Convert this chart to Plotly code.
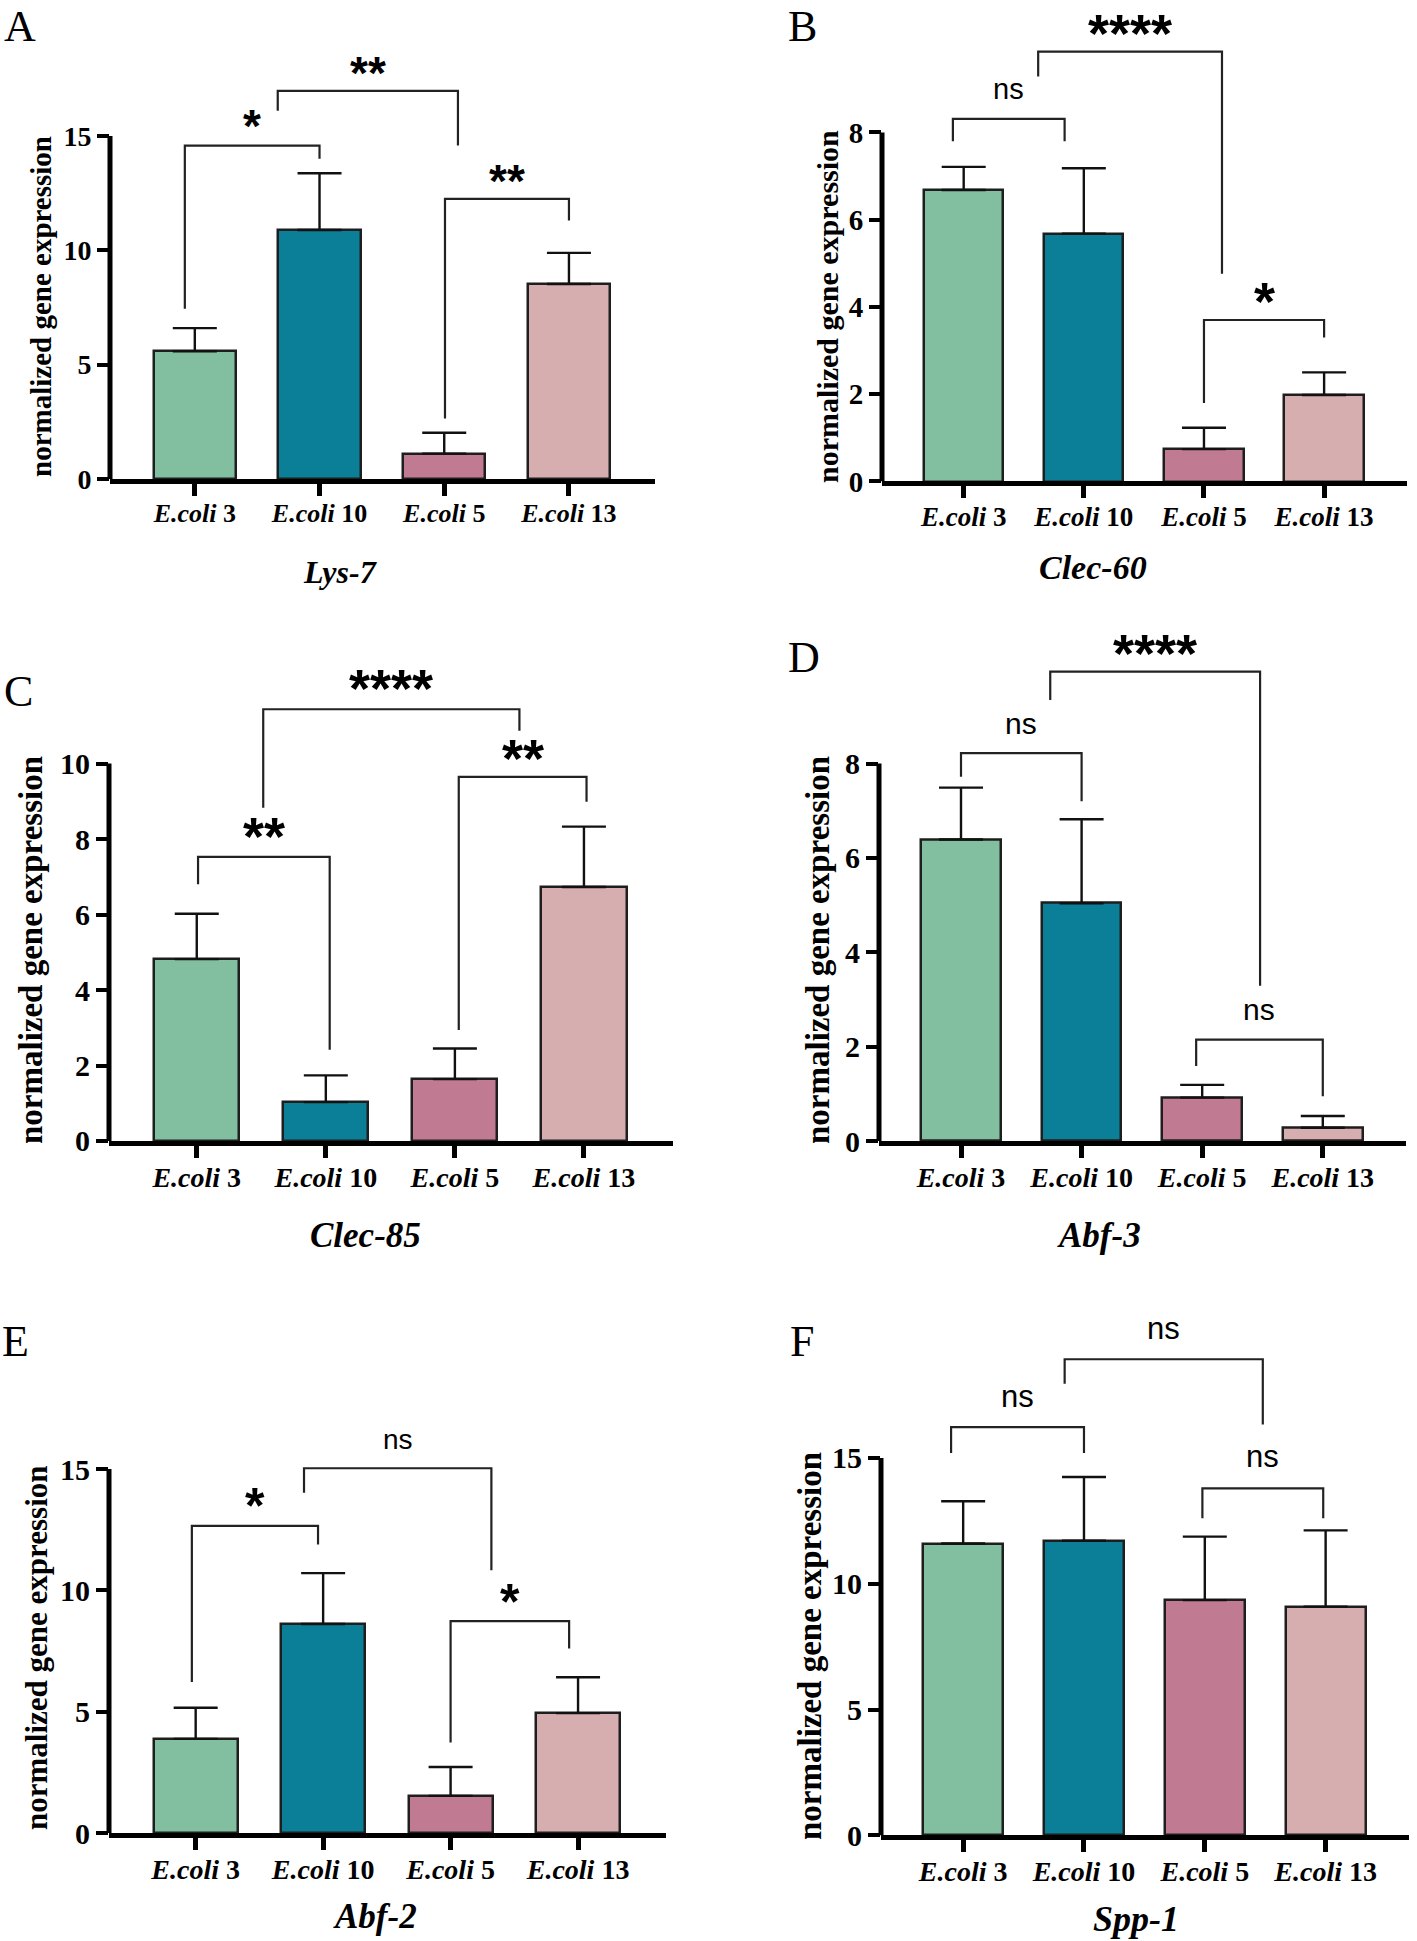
import plotly.graph_objects as go

W, H = 1417, 1941

# ---------------- data ----------------
categories = ["E.coli 3", "E.coli 10", "E.coli 5", "E.coli 13"]
tick_labels = ["<i>E.coli</i> 3", "<i>E.coli</i> 10", "<i>E.coli</i> 5", "<i>E.coli</i> 13"]
bar_colors = ["#82BEA0", "#0B7F98", "#C07A91", "#D6AEAF"]

genes = ["Lys-7", "Clec-60", "Clec-85", "Abf-3", "Abf-2", "Spp-1"]
letters = ["A", "B", "C", "D", "E", "F"]

lys7_mean = [5.59, 10.89, 1.11, 8.53]
lys7_sd = [1.01, 2.48, 0.91, 1.36]
clec60_mean = [6.68, 5.68, 0.74, 1.98]
clec60_sd = [0.53, 1.50, 0.49, 0.52]
clec85_mean = [4.82, 1.03, 1.64, 6.73]
clec85_sd = [1.20, 0.71, 0.81, 1.60]
abf3_mean = [6.39, 5.04, 0.92, 0.28]
abf3_sd = [1.10, 1.78, 0.27, 0.25]
abf2_mean = [3.88, 8.61, 1.53, 4.94]
abf2_sd = [1.28, 2.10, 1.19, 1.48]
spp1_mean = [11.60, 11.71, 9.35, 9.09]
spp1_sd = [1.68, 2.53, 2.52, 3.03]

lys7_yticks = [0, 5, 10, 15]
clec60_yticks = [0, 2, 4, 6, 8]
clec85_yticks = [0, 2, 4, 6, 8, 10]
abf3_yticks = [0, 2, 4, 6, 8]
abf2_yticks = [0, 5, 10, 15]
spp1_yticks = [0, 5, 10, 15]

# significance brackets: (x_left, x_right, y_bar, y_left_end, y_right_end, label, label_y)
lys7_sig = [(-0.08, 1.0, 14.58, 7.44, 14.0, "*", 15.6),
            (0.665, 2.11, 16.97, 16.1, 14.58, "**", 17.94),
            (2.006, 3.0, 12.25, 2.65, 11.3, "**", 13.2)]
clec60_sig = [(-0.09, 0.84, 8.31, 7.80, 7.80, "ns", 8.92),
              (0.62, 2.15, 9.85, 9.28, 4.76, "****", 10.38),
              (2.0, 3.0, 3.70, 1.80, 3.30, "*", 4.25)]
clec85_sig = [(0.01, 1.03, 7.53, 6.80, 2.42, "**", 8.21),
              (0.515, 2.50, 11.44, 8.83, 10.87, "****", 12.12),
              (2.03, 3.02, 9.65, 2.94, 8.99, "**", 10.29)]
abf3_sig = [(0.0, 1.0, 8.22, 7.72, 7.2, "ns", 8.77),
            (0.74, 2.48, 9.95, 9.35, 3.29, "****", 10.45),
            (1.95, 3.0, 2.15, 1.59, 0.95, "ns", 2.71)]
abf2_sig = [(-0.03, 0.96, 12.66, 6.22, 11.89, "*", 13.65),
            (0.85, 2.32, 15.03, 14.02, 10.83, "ns", 16.09),
            (2.0, 2.93, 8.73, 3.73, 7.6, "*", 9.70)]
spp1_sig = [(-0.1, 1.0, 16.22, 15.19, 15.19, "ns", 17.3),
            (0.84, 2.48, 18.92, 17.95, 16.33, "ns", 20.02),
            (1.98, 2.98, 13.79, 12.6, 12.6, "ns", 14.92)]

means = [lys7_mean, clec60_mean, clec85_mean, abf3_mean, abf2_mean, spp1_mean]
sds = [lys7_sd, clec60_sd, clec85_sd, abf3_sd, abf2_sd, spp1_sd]
yticks = [lys7_yticks, clec60_yticks, clec85_yticks, abf3_yticks, abf2_yticks, spp1_yticks]
sigs = [lys7_sig, clec60_sig, clec85_sig, abf3_sig, abf2_sig, spp1_sig]

# ---------------- layout geometry (pixels) ----------------
panels = [
    dict(xl=110, xr=655, y0=479, yt=136, tmax=15, ytop=19.5, fs=26, ts=32, ys=29, ss=46, ns=29,
         letter=(2, 0, "top"), title=(340, 572), ytitle=(41, 307)),
    dict(xl=882, xr=1407, y0=481.4, yt=132.4, tmax=8, ytop=10.9, fs=27, ts=34, ys=30, ss=54, ns=29,
         letter=(786, 0, "top"), title=(1093, 567), ytitle=(828, 307)),
    dict(xl=109, xr=673, y0=1141, yt=763.6, tmax=10, ytop=12.8, fs=28, ts=35, ys=33, ss=54, ns=30,
         letter=(2, 691, "middle"), title=(365, 1235), ytitle=(31, 950)),
    dict(xl=879, xr=1406, y0=1141, yt=763.6, tmax=8, ytop=10.9, fs=28, ts=35, ys=33, ss=54, ns=30,
         letter=(786, 658, "middle"), title=(1099, 1235), ytitle=(818, 950)),
    dict(xl=109, xr=666, y0=1833, yt=1469, tmax=15, ytop=16.9, fs=28, ts=35, ys=31, ss=50, ns=28,
         letter=(0, 1341, "middle"), title=(375, 1916), ytitle=(36, 1648)),
    dict(xl=881, xr=1409, y0=1835.4, yt=1457.9, tmax=15, ytop=20.8, fs=28, ts=36, ys=33, ss=52, ns=31,
         letter=(788, 1341, "middle"), title=(1136, 1919), ytitle=(810, 1646)),
]

SERIF = "Liberation Serif"
SANS = "Liberation Sans"

fig = go.Figure()
layout = dict(width=W, height=H, margin=dict(l=0, r=0, t=0, b=0, autoexpand=False),
              paper_bgcolor="white", plot_bgcolor="white", showlegend=False,
              bargap=0)
shapes = []
annotations = []

for i, P in enumerate(panels):
    n = i + 1
    xa = "x" if n == 1 else f"x{n}"
    ya = "y" if n == 1 else f"y{n}"
    xkey = "xaxis" if n == 1 else f"xaxis{n}"
    ykey = "yaxis" if n == 1 else f"yaxis{n}"

    fig.add_trace(go.Bar(
        x=[0, 1, 2, 3], y=means[i], width=0.66,
        marker=dict(color=bar_colors, line=dict(color="#1e1e1e", width=2.5)),
        error_y=dict(type="data", array=sds[i], arrayminus=[0, 0, 0, 0], symmetric=False,
                     color="#111111", thickness=2.4, width=22),
        xaxis=xa, yaxis=ya, hoverinfo="skip",
    ))

    ppu = (P["y0"] - P["yt"]) / P["tmax"]
    top_px = P["y0"] - P["ytop"] * ppu
    xtickfont = dict(family=SERIF, size=P["fs"], color="black", weight="bold")
    ytickfont = dict(family=SERIF, size=P["fs"] + 2, color="black", weight="bold")
    layout[xkey] = dict(domain=[P["xl"] / W, P["xr"] / W], range=[-0.68, 3.69], anchor=ya,
                        tickmode="array", tickvals=[0, 1, 2, 3], ticktext=tick_labels,
                        ticks="outside", ticklen=12, tickwidth=4.5, tickcolor="black",
                        ticklabelstandoff=-5,
                        showline=True, linewidth=5, linecolor="black",
                        showgrid=False, zeroline=False, tickfont=xtickfont, fixedrange=True)
    layout[ykey] = dict(domain=[1 - P["y0"] / H, 1 - top_px / H], range=[0, P["ytop"]], anchor=xa,
                        tickmode="array", tickvals=yticks[i], ticks="outside", ticklen=12,
                        tickwidth=4, tickcolor="black", showline=False, showgrid=False,
                        zeroline=False, tickfont=ytickfont, fixedrange=True)

    # y axis line only up to the last tick
    shapes.append(dict(type="line", xref=f"{xa} domain", yref=ya, x0=0, x1=0, y0=0, y1=P["tmax"],
                       line=dict(color="black", width=5)))

    # significance brackets
    for (x1, x2, yb, yl, yr, lab, ly) in sigs[i]:
        shapes.append(dict(type="path", xref=xa, yref=ya,
                           path=f"M {x1},{yl} L {x1},{yb} L {x2},{yb} L {x2},{yr}",
                           line=dict(color="#222222", width=2.2)))
        if lab == "ns":
            f = dict(family=SANS, size=P["ns"], color="black")
            ysh = 3.5
        else:
            f = dict(family=SANS, size=P["ss"], color="black", weight="bold")
            ysh = -0.09 * P["ss"]
        annotations.append(dict(x=(x1 + x2) / 2, y=ly, xref=xa, yref=ya, text=lab, showarrow=False,
                                font=f, xanchor="center", yanchor="middle", yshift=ysh))

    # panel letter
    lx, lyp, lanchor = P["letter"]
    annotations.append(dict(x=lx / W, y=1 - lyp / H, xref="paper", yref="paper", text=letters[i],
                            showarrow=False, xanchor="left", yanchor=lanchor,
                            font=dict(family=SERIF, size=44, color="black")))
    # gene title
    tx, ty = P["title"]
    annotations.append(dict(x=tx / W, y=1 - ty / H, xref="paper", yref="paper",
                            text=f"<b><i>{genes[i]}</i></b>", showarrow=False,
                            xanchor="center", yanchor="middle",
                            font=dict(family=SERIF, size=P["ts"], color="black")))
    # y title
    yx, yy = P["ytitle"]
    annotations.append(dict(x=yx / W, y=1 - yy / H, xref="paper", yref="paper",
                            text="<b>normalized gene expression</b>", showarrow=False, textangle=-90,
                            xanchor="center", yanchor="middle",
                            font=dict(family=SERIF, size=P["ys"], color="black")))

layout["shapes"] = shapes
layout["annotations"] = annotations
fig.update_layout(**layout)
fig.write_html("out.html", config={"displayModeBar": False},
               post_script="document.body.style.margin='0px';document.body.style.padding='0px';")
